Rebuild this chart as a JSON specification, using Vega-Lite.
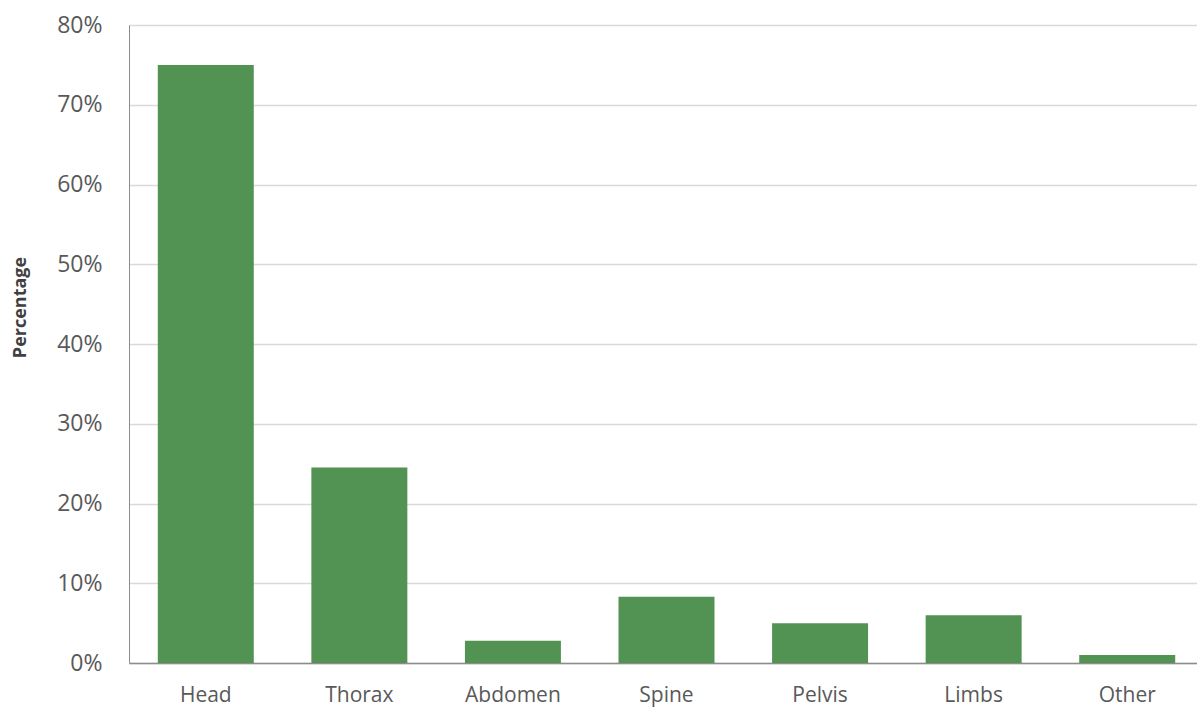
{
  "$schema": "https://vega.github.io/schema/vega-lite/v6.json",
  "autosize": "none",
  "width": 1068,
  "height": 638,
  "padding": {"left": 129, "top": 25, "right": 0, "bottom": 47},
  "background": "white",
  "config": {"view": {"stroke": null}, "font": "Open Sans"},
  "data": {"values": [
    {"region": "Head", "pct": 0.75},
    {"region": "Thorax", "pct": 0.245},
    {"region": "Abdomen", "pct": 0.028},
    {"region": "Spine", "pct": 0.083},
    {"region": "Pelvis", "pct": 0.05},
    {"region": "Limbs", "pct": 0.06},
    {"region": "Other", "pct": 0.01}
  ]},
  "mark": {"type": "bar", "color": "#529252"},
  "encoding": {
    "x": {
      "field": "region", "type": "nominal", "sort": null,
      "scale": {"range": [0, 1075], "paddingInner": 0.375, "paddingOuter": 0.1875},
      "axis": {"title": null, "labelAngle": 0, "labelFontSize": 21, "labelColor": "#595959", "labelPadding": 21, "ticks": false, "domainColor": "#8c8c8c", "domainWidth": 1.5}
    },
    "y": {
      "field": "pct", "type": "quantitative",
      "scale": {"domain": [0, 0.8]},
      "axis": {"title": "Percentage", "format": ".0%", "values": [0, 0.1, 0.2, 0.3, 0.4, 0.5, 0.6, 0.7, 0.8], "labelOverlap": false, "labelFlush": false, "labelFontSize": 23, "labelColor": "#595959", "labelPadding": 27, "ticks": false, "domain": true, "domainColor": "#8c8c8c", "gridColor": "#d9d9d9", "gridWidth": 1.3, "titleFontSize": 18, "titleFontWeight": "bold", "titleColor": "#404040", "titleX": -109, "titleY": 282, "titleAngle": -90, "titleAlign": "center", "titleBaseline": "middle"}
    }
  }
}
